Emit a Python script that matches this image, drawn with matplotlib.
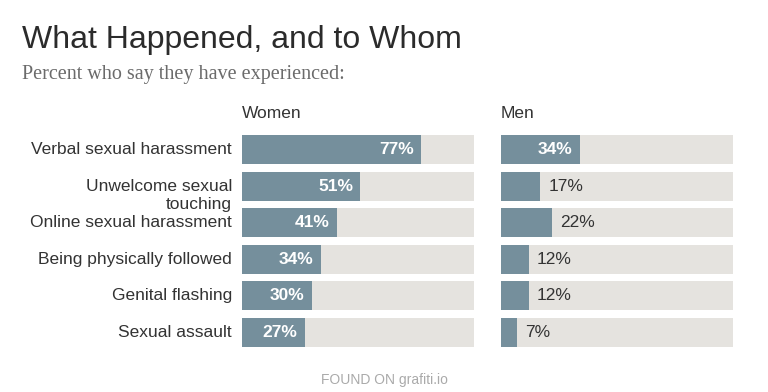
import matplotlib.pyplot as plt
import matplotlib.transforms as mtransforms

plt.rcParams['font.family'] = ['Liberation Sans', 'DejaVu Sans']

categories = ["Verbal sexual harassment", "Unwelcome sexual\ntouching",
              "Online sexual harassment", "Being physically followed",
              "Genital flashing", "Sexual assault"]
women = [77, 51, 41, 34, 30, 27]
men = [34, 17, 22, 12, 12, 7]

bar_color = '#758f9c'
bg_color = '#e5e3df'
txt_color = '#333333'

fig = plt.figure(figsize=(7.68, 3.92), dpi=100)
W, H = 768.0, 392.0

fig.text(22 / W, 1 - 40 / H, "What Happened, and to Whom", fontsize=23,
         color='#2b2b2b', va='center', ha='left')
fig.text(22 / W, 1 - 75 / H, "Percent who say they have experienced:",
         fontsize=14.5, color='#6b6b6b', va='center', ha='left',
         family=['Liberation Serif', 'DejaVu Serif'])
fig.text(384 / W, 1 - 380 / H, "FOUND ON grafiti.io", fontsize=10,
         color='#aaaaaa', va='center', ha='center')

top, bottom = 131.2, 350.8


def panel(left_px, values, header):
    ax = fig.add_axes([left_px / W, 1 - bottom / H, 232 / W, (bottom - top) / H])
    n = len(values)
    ys = list(range(n))
    ax.barh(ys, [100] * n, height=0.79, color=bg_color, left=0)
    ax.barh(ys, values, height=0.79, color=bar_color, left=0)
    ax.set_xlim(0, 100)
    ax.set_ylim(n - 0.5, -0.5)
    ax.axis('off')
    px = mtransforms.offset_copy(ax.transData, fig=fig, x=-7, y=0, units='dots')
    px_out = mtransforms.offset_copy(ax.transData, fig=fig, x=8, y=0, units='dots')
    for y, v in zip(ys, values):
        if v >= 25:
            ax.text(v, y, f"{v}%", transform=px, ha='right', va='center',
                    fontsize=12.5, color='white', fontweight='bold')
        else:
            ax.text(v, y, f"{v}%", transform=px_out, ha='left', va='center',
                    fontsize=12.5, color=txt_color)
    ax.text(0, -0.5 - 18 / 36.6, header, transform=ax.transData, ha='left',
            va='center', fontsize=12.5, color=txt_color, clip_on=False)
    return ax


ax1 = panel(242, women, "Women")
ax2 = panel(501, men, "Men")

lab_tr = mtransforms.blended_transform_factory(ax1.transAxes, ax1.transData)
lab_tr = mtransforms.offset_copy(lab_tr, fig=fig, x=-10, y=0, units='dots')
for i, c in enumerate(categories):
    lines = c.split("\n")
    for j, line in enumerate(lines):
        yy = i + j * 0.5
        ax1.text(0, yy, line, transform=lab_tr, ha='right', va='center',
                 fontsize=12.5, color=txt_color, clip_on=False)

fig.savefig('out.png', dpi=100, facecolor='white')
